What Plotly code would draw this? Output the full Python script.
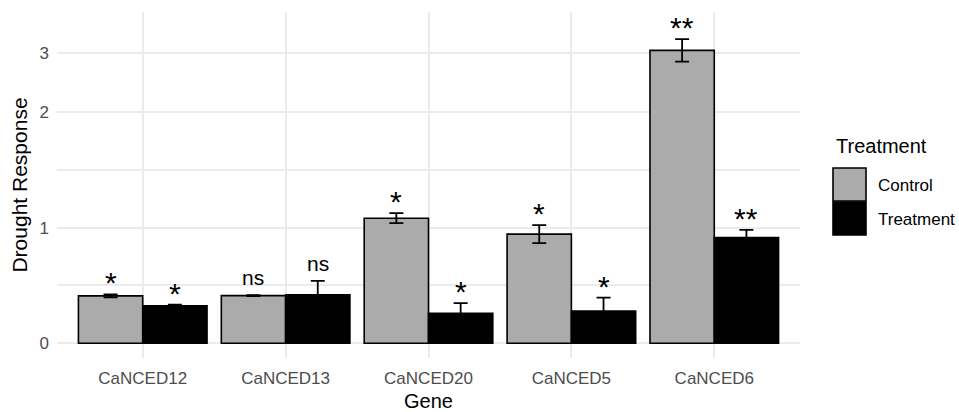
import plotly.graph_objects as go

genes = ["CaNCED12", "CaNCED13", "CaNCED20", "CaNCED5", "CaNCED6"]
control_mean = [0.41, 0.412, 1.082, 0.944, 3.04]
control_se = [0.013, 0.004, 0.043, 0.078, 0.19]
treatment_mean = [0.325, 0.42, 0.26, 0.28, 0.914]
treatment_se = [0.01, 0.12, 0.087, 0.115, 0.067]
control_sig = ["*", "ns", "*", "*", "**"]
treatment_sig = ["*", "ns", "*", "*", "**"]
y_tick_values = [0, 1, 2, 3]
y_minor_values = [0.5, 1.5]

# axis transform reproducing the reference's compressed scale above 2
def tr(v):
    return v if v <= 2 else 2 + (v - 2) * 0.513

def tr_list(vals):
    return [tr(v) for v in vals]

FONT = "Liberation Sans, Arial, sans-serif"

fig = go.Figure()
for name, means, ses, color in [
    ("Control", control_mean, control_se, "#ababab"),
    ("Treatment", treatment_mean, treatment_se, "#000000"),
]:
    disp = tr_list(means)
    up = [tr(m + s) - tr(m) for m, s in zip(means, ses)]
    dn = [tr(m) - tr(m - s) for m, s in zip(means, ses)]
    fig.add_trace(go.Bar(
        x=genes, y=disp, name=name,
        marker=dict(color=color, line=dict(color="black", width=1.6)),
        error_y=dict(type="data", symmetric=False, array=up, arrayminus=dn,
                     color="black", thickness=1.8, width=7),
        showlegend=False,
    ))

annotations = []
for i, g in enumerate(genes):
    for off, means, ses, sig in [(-0.225, control_mean, control_se, control_sig),
                                  (0.225, treatment_mean, treatment_se, treatment_sig)]:
        is_star = "*" in sig[i]
        annotations.append(dict(
            x=i + off, y=tr(means[i] + ses[i]), xref="x", yref="y",
            text=sig[i], showarrow=False, yanchor="bottom",
            yshift=-7 if is_star else 4,
            font=dict(family=FONT, size=30 if is_star else 21, color="black"),
        ))

# legend built from layout elements
W, H, L, T = 743.0, 346.0, 57.0, 12.0
def px(x):
    return (x - L) / W
def py(y):
    return (T + H - y) / H

shapes = [
    dict(type="rect", xref="paper", yref="paper", x0=px(833), x1=px(866), y0=py(201), y1=py(168),
         fillcolor="#ababab", line=dict(color="black", width=1.6)),
    dict(type="rect", xref="paper", yref="paper", x0=px(833), x1=px(866), y0=py(235), y1=py(202),
         fillcolor="#000000", line=dict(color="black", width=1.6)),
]
annotations += [
    dict(x=px(834), y=py(146), xref="paper", yref="paper", text="Treatment", showarrow=False,
         xanchor="left", yanchor="middle", font=dict(family=FONT, size=20, color="black")),
    dict(x=px(876), y=py(185), xref="paper", yref="paper", text="Control", showarrow=False,
         xanchor="left", yanchor="middle", font=dict(family=FONT, size=17, color="black")),
    dict(x=px(876), y=py(219), xref="paper", yref="paper", text="Treatment", showarrow=False,
         xanchor="left", yanchor="middle", font=dict(family=FONT, size=17, color="black")),
]

tickvals = [tr(v) for v in y_tick_values] + y_minor_values
ticktext = [str(v) for v in y_tick_values] + ["" for _ in y_minor_values]

fig.update_layout(
    width=959, height=412,
    margin=dict(l=57, r=159, t=12, b=54),
    plot_bgcolor="white", paper_bgcolor="white",
    barmode="group", bargap=0.1, bargroupgap=0,
    font=dict(family=FONT, color="black"),
    shapes=shapes, annotations=annotations,
    xaxis=dict(
        range=[-0.6, 4.6], showgrid=True, gridcolor="#ebebeb", gridwidth=1.5,
        ticks="", showline=False, zeroline=False, ticklabelstandoff=8, automargin=False,
        tickfont=dict(family=FONT, size=17, color="#4d4d4d"),
        title=dict(text="Gene", font=dict(family=FONT, size=20, color="black"), standoff=6),
    ),
    yaxis=dict(
        range=[-0.127, 2.865], tickmode="array", tickvals=tickvals, ticktext=ticktext,
        showgrid=True, gridcolor="#ebebeb", gridwidth=1.5, zeroline=False, showline=False,
        automargin=False,
        ticks="", ticklabelstandoff=7, tickfont=dict(family=FONT, size=17, color="#4d4d4d"),
        title=dict(text="Drought Response", font=dict(family=FONT, size=21, color="black"), standoff=6),
    ),
)

fig.write_html("out.html")
